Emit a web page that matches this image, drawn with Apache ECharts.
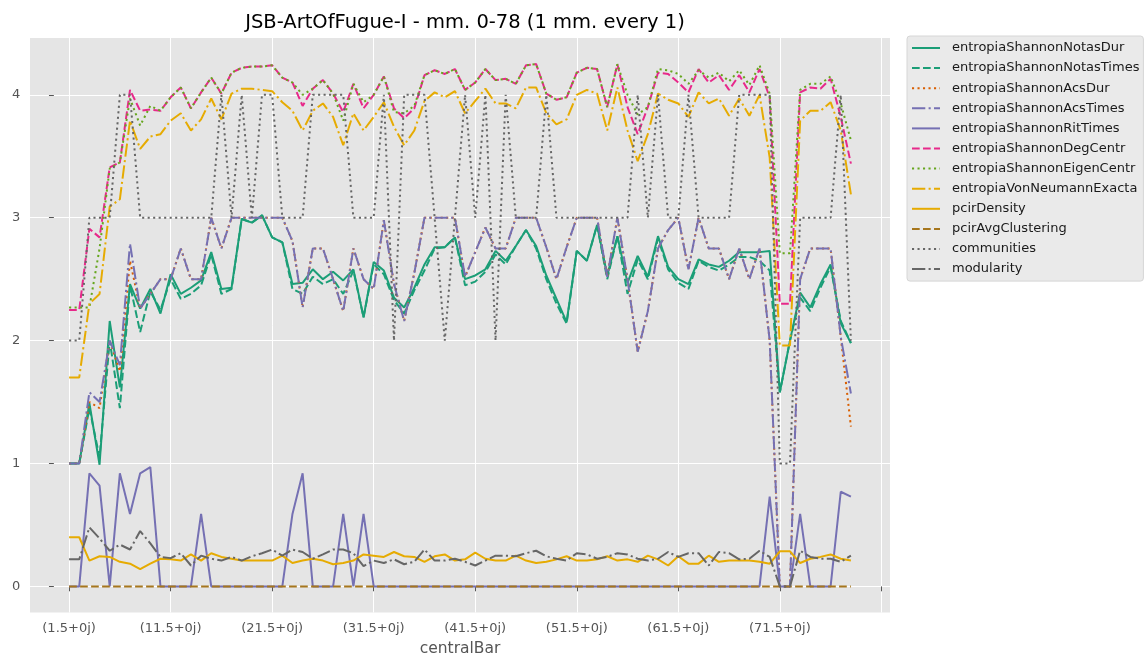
<!DOCTYPE html>
<html>
<head>
<meta charset="utf-8">
<script src="https://cdn.jsdelivr.net/npm/echarts@6/dist/echarts.min.js"></script>
<style>
  html, body { margin: 0; padding: 0; background: #fff; }
  #chart { width: 1146px; height: 656px; }
</style>
</head>
<body>
<div id="chart"></div>
<script>
// x positions (centralBar) and tick labels
const centralBar = [1.5, 2.5, 3.5, 4.5, 5.5, 6.5, 7.5, 8.5, 9.5, 10.5, 11.5, 12.5, 13.5, 14.5, 15.5, 16.5, 17.5, 18.5, 19.5, 20.5,
  21.5, 22.5, 23.5, 24.5, 25.5, 26.5, 27.5, 28.5, 29.5, 30.5, 31.5, 32.5, 33.5, 34.5, 35.5, 36.5, 37.5, 38.5, 39.5, 40.5,
  41.5, 42.5, 43.5, 44.5, 45.5, 46.5, 47.5, 48.5, 49.5, 50.5, 51.5, 52.5, 53.5, 54.5, 55.5, 56.5, 57.5, 58.5, 59.5, 60.5,
  61.5, 62.5, 63.5, 64.5, 65.5, 66.5, 67.5, 68.5, 69.5, 70.5, 71.5, 72.5, 73.5, 74.5, 75.5, 76.5, 77.5, 78.5];
const xTicks = [1.5, 11.5, 21.5, 31.5, 41.5, 51.5, 61.5, 71.5, 81.5];
const xTickLabels = ['(1.5+0j)', '(11.5+0j)', '(21.5+0j)', '(31.5+0j)', '(41.5+0j)', '(51.5+0j)', '(61.5+0j)', '(71.5+0j)', ''];
const yTicks = [0, 1, 2, 3, 4];

const entropiaShannonNotasDur = [1.0, 1.0, 1.49, 0.99, 2.16, 1.62, 2.46, 2.26, 2.42, 2.22, 2.54, 2.38, 2.43, 2.49, 2.72, 2.42, 2.43, 2.99, 2.96, 3.02,
  2.84, 2.80, 2.46, 2.47, 2.58, 2.50, 2.56, 2.49, 2.58, 2.19, 2.64, 2.57, 2.35, 2.27, 2.43, 2.62, 2.76, 2.76, 2.84, 2.50,
  2.53, 2.58, 2.73, 2.65, 2.77, 2.90, 2.77, 2.53, 2.34, 2.15, 2.73, 2.65, 2.94, 2.53, 2.85, 2.47, 2.69, 2.52, 2.85, 2.60,
  2.50, 2.46, 2.66, 2.62, 2.60, 2.65, 2.72, 2.72, 2.72, 2.73, 1.58, 2.00, 2.39, 2.27, 2.46, 2.62, 2.14, 1.98];
const entropiaShannonNotasTimes = [1.0, 1.0, 1.45, 1.05, 2.00, 1.45, 2.45, 2.07, 2.40, 2.25, 2.50, 2.34, 2.38, 2.45, 2.70, 2.38, 2.42, 2.99, 2.96, 3.02,
  2.84, 2.80, 2.42, 2.38, 2.52, 2.46, 2.50, 2.38, 2.57, 2.19, 2.62, 2.54, 2.33, 2.22, 2.41, 2.57, 2.75, 2.76, 2.84, 2.45,
  2.48, 2.56, 2.70, 2.62, 2.77, 2.90, 2.75, 2.50, 2.30, 2.14, 2.73, 2.65, 2.94, 2.50, 2.85, 2.38, 2.66, 2.50, 2.83, 2.58,
  2.47, 2.42, 2.65, 2.60, 2.57, 2.62, 2.68, 2.68, 2.65, 2.57, 1.58, 2.00, 2.35, 2.24, 2.43, 2.60, 2.16, 1.98];
const entropiaShannonAcsDur = [1.0, 1.0, 1.50, 1.45, 2.00, 1.75, 2.65, 2.26, 2.38, 2.50, 2.50, 2.75, 2.50, 2.50, 3.0, 2.75, 3.0, 3.0, 3.0, 3.0,
  3.0, 3.0, 2.81, 2.27, 2.75, 2.75, 2.50, 2.24, 2.75, 2.50, 2.42, 2.98, 2.46, 2.16, 2.55, 3.0, 3.0, 3.0, 3.0, 2.52,
  2.72, 2.92, 2.75, 2.75, 3.0, 3.0, 3.0, 2.76, 2.50, 2.76, 3.0, 3.0, 3.0, 2.52, 3.0, 2.50, 1.91, 2.24, 2.75, 2.90,
  3.0, 2.58, 3.0, 2.75, 2.75, 2.50, 2.75, 2.50, 2.75, 2.00, 0, 0, 2.50, 2.75, 2.75, 2.75, 2.03, 1.30];
const entropiaShannonAcsTimes = [1.0, 1.0, 1.58, 1.50, 2.00, 1.80, 2.79, 2.26, 2.38, 2.50, 2.50, 2.75, 2.50, 2.50, 3.0, 2.75, 3.0, 3.0, 3.0, 3.0,
  3.0, 3.0, 2.81, 2.27, 2.75, 2.75, 2.50, 2.24, 2.75, 2.50, 2.42, 2.98, 2.46, 2.16, 2.55, 3.0, 3.0, 3.0, 3.0, 2.52,
  2.72, 2.92, 2.75, 2.75, 3.0, 3.0, 3.0, 2.76, 2.50, 2.76, 3.0, 3.0, 3.0, 2.52, 3.0, 2.50, 1.91, 2.24, 2.75, 2.90,
  3.0, 2.58, 3.0, 2.75, 2.75, 2.50, 2.75, 2.50, 2.75, 2.00, 0, 0, 2.50, 2.75, 2.75, 2.75, 2.03, 1.57];
const entropiaShannonRitTimes = [0, 0, 0.92, 0.82, 0, 0.92, 0.59, 0.92, 0.97, 0, 0, 0, 0, 0.59, 0, 0, 0, 0, 0, 0,
  0, 0, 0.59, 0.92, 0, 0, 0, 0.59, 0, 0.59, 0, 0, 0, 0, 0, 0, 0, 0, 0, 0,
  0, 0, 0, 0, 0, 0, 0, 0, 0, 0, 0, 0, 0, 0, 0, 0, 0, 0, 0, 0,
  0, 0, 0, 0, 0, 0, 0, 0, 0, 0.73, 0, 0, 0.59, 0, 0, 0, 0.77, 0.73];
const entropiaShannonDegCentr = [2.25, 2.25, 2.91, 2.84, 3.41, 3.45, 4.04, 3.87, 3.88, 3.87, 3.98, 4.06, 3.89, 4.02, 4.14, 4.01, 4.18, 4.22, 4.23, 4.23,
  4.24, 4.14, 4.10, 3.91, 4.05, 4.12, 4.01, 3.86, 4.09, 3.89, 4.00, 4.15, 3.89, 3.81, 3.89, 4.16, 4.20, 4.17, 4.21, 4.04,
  4.10, 4.21, 4.12, 4.13, 4.09, 4.24, 4.25, 4.01, 3.96, 3.98, 4.18, 4.22, 4.21, 3.90, 4.25, 3.90, 3.68, 3.90, 4.18, 4.17,
  4.10, 4.02, 4.21, 4.10, 4.16, 4.04, 4.16, 4.02, 4.21, 3.98, 2.30, 2.30, 4.02, 4.06, 4.05, 4.13, 3.82, 3.44];
const entropiaShannonEigenCentr = [2.27, 2.27, 2.27, 2.75, 3.40, 3.45, 3.97, 3.75, 3.91, 3.87, 3.98, 4.06, 3.89, 4.02, 4.14, 4.01, 4.18, 4.22, 4.23, 4.23,
  4.24, 4.14, 4.10, 4.00, 4.05, 4.12, 4.01, 3.79, 4.09, 3.94, 4.00, 4.15, 3.86, 3.85, 3.91, 4.16, 4.20, 4.17, 4.21, 4.04,
  4.10, 4.21, 4.12, 4.13, 4.09, 4.24, 4.25, 4.01, 3.96, 3.98, 4.18, 4.22, 4.21, 3.90, 4.25, 4.00, 3.84, 3.90, 4.21, 4.20,
  4.17, 4.09, 4.20, 4.14, 4.18, 4.11, 4.20, 4.08, 4.24, 4.01, 2.71, 2.71, 4.04, 4.09, 4.09, 4.15, 3.93, 3.63];
const entropiaVonNeumannExacta = [1.70, 1.70, 2.30, 2.38, 3.09, 3.15, 3.79, 3.56, 3.66, 3.68, 3.79, 3.85, 3.71, 3.80, 3.97, 3.80, 4.01, 4.05, 4.05, 4.04,
  4.03, 3.94, 3.87, 3.71, 3.87, 3.93, 3.82, 3.59, 3.85, 3.71, 3.82, 3.94, 3.74, 3.59, 3.71, 3.95, 4.02, 3.98, 4.03, 3.85,
  3.95, 4.05, 3.93, 3.93, 3.89, 4.06, 4.06, 3.85, 3.76, 3.80, 4.00, 4.04, 4.01, 3.71, 4.06, 3.71, 3.46, 3.68, 4.01, 3.96,
  3.93, 3.82, 4.02, 3.93, 3.97, 3.83, 3.97, 3.83, 4.00, 3.49, 1.96, 1.96, 3.79, 3.87, 3.87, 3.94, 3.71, 3.19];
const pcirDensity = [0.40, 0.40, 0.21, 0.245, 0.24, 0.20, 0.185, 0.14, 0.185, 0.225, 0.22, 0.21, 0.26, 0.21, 0.27, 0.24, 0.225, 0.21, 0.21, 0.21,
  0.21, 0.25, 0.19, 0.21, 0.225, 0.21, 0.18, 0.19, 0.21, 0.26, 0.25, 0.24, 0.28, 0.245, 0.24, 0.20, 0.245, 0.26, 0.21, 0.22,
  0.275, 0.225, 0.21, 0.21, 0.25, 0.21, 0.19, 0.20, 0.22, 0.245, 0.21, 0.21, 0.22, 0.245, 0.21, 0.22, 0.20, 0.25, 0.22, 0.17,
  0.245, 0.185, 0.185, 0.25, 0.20, 0.21, 0.21, 0.21, 0.20, 0.185, 0.285, 0.285, 0.19, 0.225, 0.24, 0.26, 0.225, 0.21];
const pcirAvgClustering = [0, 0, 0, 0, 0, 0, 0, 0, 0, 0, 0, 0, 0, 0, 0, 0, 0, 0, 0, 0,
  0, 0, 0, 0, 0, 0, 0, 0, 0, 0, 0, 0, 0, 0, 0, 0, 0, 0, 0, 0,
  0, 0, 0, 0, 0, 0, 0, 0, 0, 0, 0, 0, 0, 0, 0, 0, 0, 0, 0, 0,
  0, 0, 0, 0, 0, 0, 0, 0, 0, 0, 0, 0, 0, 0, 0, 0, 0, 0];
const communities = [2, 2, 3, 3, 3, 4, 4, 3, 3, 3, 3, 3, 3, 3, 3, 4, 3, 4, 3, 4,
  4, 3, 3, 3, 4, 4, 4, 4, 3, 3, 3, 4, 2, 4, 4, 4, 3, 2, 3, 4,
  3, 4, 2, 4, 3, 3, 3, 4, 3, 3, 3, 3, 3, 3, 3, 3, 4, 3, 4, 3,
  3, 4, 3, 3, 3, 3, 4, 4, 4, 4, 1, 1, 3, 3, 3, 3, 4, 2];
const modularity = [0.22, 0.22, 0.48, 0.39, 0.29, 0.34, 0.30, 0.45, 0.35, 0.24, 0.23, 0.27, 0.17, 0.25, 0.225, 0.21, 0.24, 0.21, 0.245, 0.27,
  0.30, 0.25, 0.30, 0.28, 0.225, 0.26, 0.30, 0.30, 0.27, 0.165, 0.21, 0.19, 0.22, 0.18, 0.20, 0.30, 0.21, 0.21, 0.225, 0.20,
  0.17, 0.21, 0.25, 0.25, 0.245, 0.27, 0.29, 0.245, 0.225, 0.21, 0.27, 0.26, 0.225, 0.24, 0.27, 0.26, 0.225, 0.21, 0.225, 0.28,
  0.24, 0.27, 0.27, 0.17, 0.28, 0.27, 0.22, 0.225, 0.29, 0.24, 0, 0, 0.29, 0.24, 0.225, 0.225, 0.20, 0.25];

const FONT = 'DejaVu Sans';
// matplotlib-like dash patterns (px)
const DASHED = [7.7, 3.3];
const DOTTED = [2.1, 3.4];
const DASHDOT = [13.3, 3.3, 2.1, 3.3];

const seriesDefs = [
  ['entropiaShannonNotasDur', entropiaShannonNotasDur, '#1b9e77', 'solid'],
  ['entropiaShannonNotasTimes', entropiaShannonNotasTimes, '#1b9e77', DASHED],
  ['entropiaShannonAcsDur', entropiaShannonAcsDur, '#d95f02', DOTTED],
  ['entropiaShannonAcsTimes', entropiaShannonAcsTimes, '#7570b3', DASHDOT],
  ['entropiaShannonRitTimes', entropiaShannonRitTimes, '#7570b3', 'solid'],
  ['entropiaShannonDegCentr', entropiaShannonDegCentr, '#e7298a', DASHED],
  ['entropiaShannonEigenCentr', entropiaShannonEigenCentr, '#66a61e', DOTTED],
  ['entropiaVonNeumannExacta', entropiaVonNeumannExacta, '#e6ab02', DASHDOT],
  ['pcirDensity', pcirDensity, '#e6ab02', 'solid'],
  ['pcirAvgClustering', pcirAvgClustering, '#a6761d', DASHED],
  ['communities', communities, '#666666', DOTTED],
  ['modularity', modularity, '#666666', DASHDOT]
];

const chart = echarts.init(document.getElementById('chart'), null, { renderer: 'canvas' });

const option = {
  animation: false,
  backgroundColor: '#ffffff',
  title: {
    text: 'JSB-ArtOfFugue-I - mm. 0-78 (1 mm. every 1)',
    left: 460,
    textAlign: 'center',
    top: 8,
    textStyle: { fontFamily: FONT, fontSize: 19.5, fontWeight: 'normal', color: '#000' }
  },
  grid: {
    left: 30, right: 256, top: 38, bottom: 43.5,
    outerBoundsMode: 'none',
    show: true, backgroundColor: '#e5e5e5', borderWidth: 0
  },
  legend: {
    orient: 'vertical',
    left: 907, top: 36,
    itemWidth: 28, itemHeight: 12, itemGap: 6.1,
    padding: [5, 4, 5, 4],
    backgroundColor: '#eaeaea', borderColor: '#d6d6d6', borderWidth: 1, borderRadius: 3,
    // hide the marker dot, keep only the styled line
    itemStyle: { opacity: 0 },
    textStyle: { fontFamily: FONT, fontSize: 13, color: '#1a1a1a', lineHeight: 14, padding: [0, 0, 0, 7] },
    data: seriesDefs.map(d => d[0])
  },
  xAxis: {
    type: 'value',
    min: -2.35, max: 82.35,
    axisLine: { show: false },
    axisTick: { show: true, length: 4.9, customValues: xTicks, lineStyle: { color: '#555', width: 1 } },
    axisLabel: {
      customValues: xTicks,
      margin: 9.7,
      color: '#555', fontFamily: FONT, fontSize: 13,
      formatter: v => {
        const k = xTicks.indexOf(v);
        return k >= 0 ? xTickLabels[k] : '';
      }
    },
    splitLine: { show: true, lineStyle: { color: '#ffffff', width: 1 } },
    name: 'centralBar',
    nameLocation: 'middle',
    nameGap: 28,
    nameTextStyle: { fontFamily: FONT, fontSize: 15.5, color: '#555' }
  },
  yAxis: {
    type: 'value',
    min: -0.2125, max: 4.4625,
    axisLine: { show: false },
    axisTick: { show: true, length: 4.9, customValues: yTicks, lineStyle: { color: '#555', width: 1 } },
    axisLabel: { customValues: yTicks, margin: 9.7, color: '#555', fontFamily: FONT, fontSize: 13 },
    splitLine: { show: true, lineStyle: { color: '#ffffff', width: 1 } }
  },
  series: seriesDefs.map(d => ({
    name: d[0],
    type: 'line',
    symbol: 'none',
    data: centralBar.map((x, i) => [x, d[1][i]]),
    itemStyle: { color: d[2] },
    lineStyle: { color: d[2], width: 2, type: d[3], cap: 'butt' }
  }))
};

chart.setOption(option);
</script>
</body>
</html>
